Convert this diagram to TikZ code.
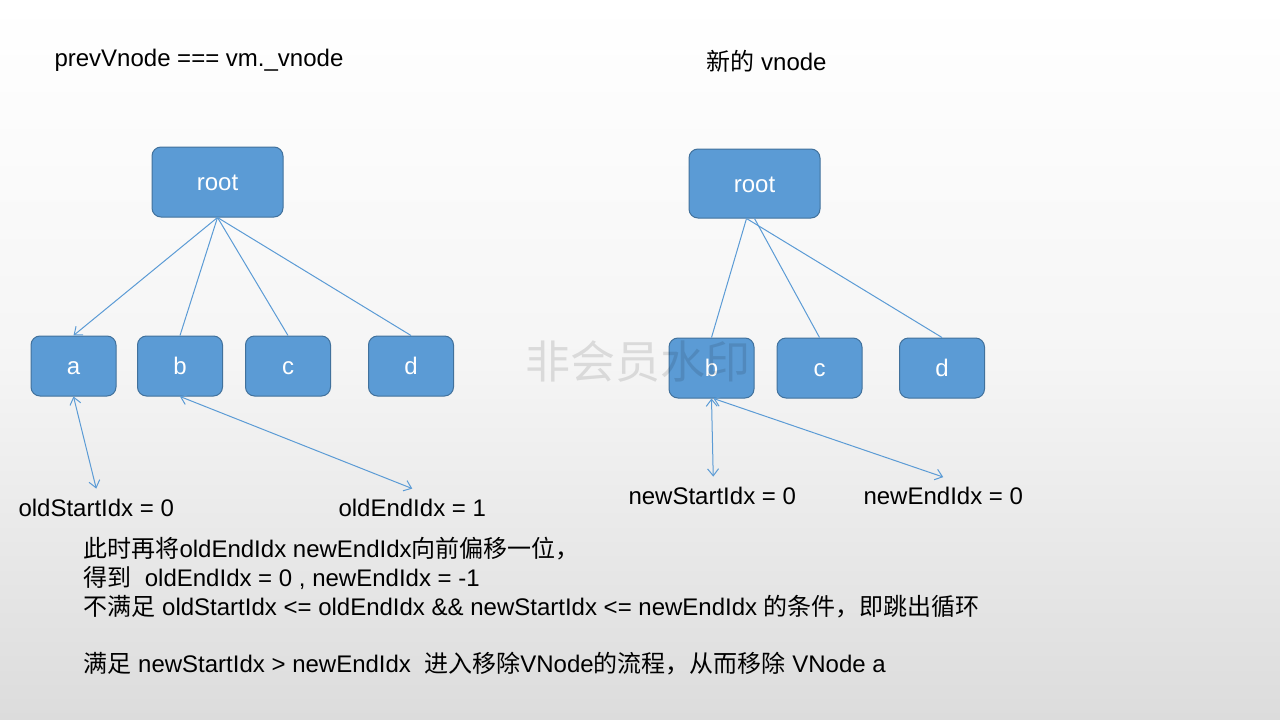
\documentclass[tikz,border=0pt]{standalone}
\usepackage{fontspec}
\setmainfont{Liberation Sans}
\newfontfamily\cjk{Noto Sans CJK SC}
\usetikzlibrary{arrows.meta}
\definecolor{boxblue}{RGB}{91,155,213}
\definecolor{boxedge}{RGB}{65,113,156}
\definecolor{bgbottom}{RGB}{220,220,220}
\newcommand{\zh}[1]{{\cjk #1}}
\tikzset{
  vbox/.style={draw=boxedge, fill=boxblue, rounded corners=9pt, line width=1pt,
    text=white, minimum width=85pt, minimum height=60pt, inner sep=0pt,
    text height=17.5pt, text depth=0pt,
    font=\fontsize{24}{28}\selectfont},
  rootbox/.style={vbox, minimum width=131pt, minimum height=70pt},
  edge/.style={draw=boxblue, line width=1pt},
  tip/.style={-{Straight Barb[length=7pt,width=11pt]}},
  dtip/.style={{Straight Barb[length=7pt,width=11pt]}-{Straight Barb[length=7pt,width=11pt]}},
  lbl/.style={anchor=base west, inner sep=3.33pt, text=black, font=\fontsize{24}{29}\selectfont},
  wmark/.style={anchor=center, text=black, text opacity=0.11, font=\cjk\fontsize{45}{50}\selectfont}
}
\begin{document}
\begin{tikzpicture}[x=1pt,y=-1pt]
\useasboundingbox (0,0) rectangle (1280,720);
\shade[top color=white, bottom color=bgbottom, middle color=white!72!bgbottom] (0,0) rectangle (1280,720);

% titles
\node[lbl] (t1) at (51,66) {prevVnode === vm.\_vnode};
\node[lbl] (t2) at (703,70) {\zh{新的} vnode};

% left tree
\node[rootbox] (lroot) at (217.5,182) {root};
\node[vbox] (la) at (73.5,366) {a};
\node[vbox] (lb) at (180,366) {b};
\node[vbox] (lc) at (288,366) {c};
\node[vbox] (ld) at (411,366) {d};

\draw[edge,tip] (lroot.south) -- (la.north);
\draw[edge] (lroot.south) -- (lb.north);
\draw[edge] (lroot.south) -- (lc.north);
\draw[edge] (lroot.south) -- (ld.north);

% right tree
\node[rootbox, minimum height=69pt] (rroot) at (754.5,183.5) {root};
\node[vbox] (rb) at (711.5,368) {b};
\node[vbox] (rc) at (819.5,368) {c};
\node[vbox] (rd) at (942,368) {d};

\draw[edge] ([xshift=-8pt]rroot.south) -- (rb.north);
\draw[edge] ([xshift=0pt]rroot.south) -- (rc.north);
\draw[edge] ([xshift=-8pt]rroot.south) -- (rd.north);

% index labels
\node[lbl] (oS) at (15,516) {oldStartIdx = 0};
\node[lbl] (oE) at (335,516) {oldEndIdx = 1};
\node[lbl] (nS) at (625,504) {newStartIdx = 0};
\node[lbl] (nE) at (860,504) {newEndIdx = 0};

\draw[edge,dtip] (la.south) -- ([yshift=6.5pt]oS.north);
\draw[edge,dtip] (lb.south) -- ([yshift=6.5pt]oE.north);
\draw[edge,dtip] (rb.south) -- ([yshift=6.5pt,xshift=1pt]nS.north);
\draw[edge,dtip] ([xshift=2pt]rb.south) -- ([yshift=6pt]nE.north);

% explanation
\node[lbl] (e1) at (80,557) {\zh{此时再将}oldEndIdx newEndIdx\zh{向前偏移一位，}};
\node[lbl] (e2) at (80,586) {\zh{得到}\ \ oldEndIdx = 0 , newEndIdx = -1};
\node[lbl] (e3) at (80,615) {\zh{不满足} oldStartIdx <= oldEndIdx \&\& newStartIdx <= newEndIdx \zh{的条件，即跳出循环}};
\node[lbl] (e4) at (80,672) {\zh{满足} newStartIdx > newEndIdx\ \ \zh{进入移除}VNode\zh{的流程，从而移除} VNode a};

% watermark
\node[wmark] (wm) at (638,361) {非会员水印};
\end{tikzpicture}
\end{document}
